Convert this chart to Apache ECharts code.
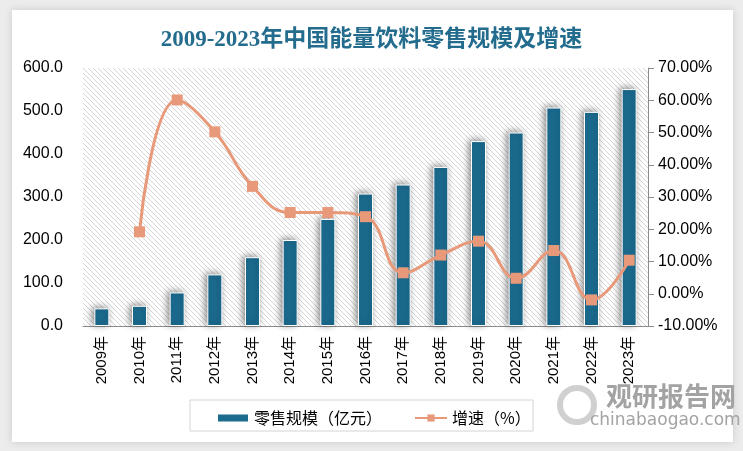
<!DOCTYPE html>
<html><head><meta charset="utf-8">
<script src="https://cdn.jsdelivr.net/npm/echarts@6/dist/echarts.min.js"></script>
<style>html,body{margin:0;padding:0;background:#ececec;}#c{width:743px;height:451px;}</style>
</head><body><div id="c"></div>
<script>
const categories = ['2009年','2010年','2011年','2012年','2013年','2014年','2015年','2016年','2017年','2018年','2019年','2020年','2021年','2022年','2023年'];
const retailScale = [41, 47, 78, 120, 160, 200, 249, 308, 329, 370, 430, 450, 508, 498, 551];
const growthRate = [null, 19.2, 60.1, 50.2, 33.3, 25.2, 25.2, 23.9, 6.5, 12.0, 16.3, 4.8, 13.4, -1.9, 10.4];
const leftTicks = {min: 0, max: 600, interval: 100};
const rightTicks = {min: -10, max: 70, interval: 10};

// hatch pattern
const pc = document.createElement('canvas');
pc.width = 5; pc.height = 5;
const g = pc.getContext('2d');
g.fillStyle = '#ffffff'; g.fillRect(0,0,5,5);
g.strokeStyle = '#d6d6d6'; g.lineWidth = 1;
g.beginPath();
g.moveTo(-1,-1); g.lineTo(6,6);
g.moveTo(-1,4); g.lineTo(1,6);
g.moveTo(4,-1); g.lineTo(6,1);
g.stroke();

const chart = echarts.init(document.getElementById('c'));
chart.setOption({
  backgroundColor: '#ececec',
  animation: false,
  title: {
    text: '2009-2023年中国能量饮料零售规模及增速',
    left: 'center', top: 24,
    textStyle: {color: '#236c8e', fontSize: 23, fontWeight: 'bold', fontFamily: '"Liberation Serif","Noto Sans CJK SC",serif'}
  },
  graphic: [
    {type: 'rect', z: -10, shape: {x: 12, y: 10, width: 721, height: 432},
     style: {fill: '#ffffff', shadowBlur: 8, shadowColor: 'rgba(0,0,0,0.15)'}},
    {type: 'rect', z: 5, shape: {x: 190, y: 400, width: 343, height: 31},
     style: {fill: 'none', stroke: '#d4d4d4', lineWidth: 1}},
    {type: 'circle', z: 1, shape: {cx: 577, cy: 405, r: 17},
     style: {fill: 'none', stroke: '#d0d0d0', lineWidth: 6}},
    {type: 'text', z: 1, left: 606, top: 383,
     style: {text: '观研报告网', fill: '#a3a3a3', font: 'bold 26px "Noto Sans CJK SC"'}},
    {type: 'text', z: 1, left: 590, top: 412,
     style: {text: 'chinabaogao.com', fill: '#a3a3a3', font: '17px "DejaVu Sans"'}}
  ],
  legend: {
    left: 211, top: 405,
    itemGap: 32,
    itemWidth: 32, itemHeight: 9,
    textStyle: {fontSize: 16, color: '#000', fontFamily: '"Noto Sans CJK SC"'},
    data: [
      {name: '零售规模（亿元）', icon: 'rect'},
      {name: '增速（%）'}
    ]
  },
  grid: {left: 83, right: 95, top: 68, bottom: 125, show: true, borderWidth: 0,
         backgroundColor: {image: pc, repeat: 'repeat'}},
  xAxis: {
    type: 'category', data: categories,
    axisLine: {lineStyle: {color: '#8c8c8c', width: 1}},
    axisTick: {show: false},
    axisLabel: {rotate: 90, fontSize: 15, color: '#000', margin: 10, fontFamily: '"Liberation Sans","Noto Sans CJK SC"'}
  },
  yAxis: [
    {type: 'value', min: leftTicks.min, max: leftTicks.max, interval: leftTicks.interval,
     splitLine: {show: false}, axisLine: {show: false}, axisTick: {show: false},
     axisLabel: {fontSize: 16, color: '#000', margin: 20, formatter: v => v.toFixed(1), fontFamily: '"Liberation Sans"'}},
    {type: 'value', min: rightTicks.min, max: rightTicks.max, interval: rightTicks.interval, position: 'right',
     splitLine: {show: false},
     axisLine: {show: true, lineStyle: {color: '#8c8c8c'}},
     axisTick: {show: true, length: 6, lineStyle: {color: '#8c8c8c'}},
     axisLabel: {fontSize: 16, color: '#000', margin: 10, formatter: v => v.toFixed(2) + '%', fontFamily: '"Liberation Sans"'}}
  ],
  series: [
    {name: '零售规模（亿元）', type: 'bar', data: retailScale, barWidth: 15, yAxisIndex: 0,
     itemStyle: {color: '#1b6b8f', borderColor: '#ffffff', borderWidth: 1,
                 shadowBlur: 7, shadowColor: 'rgba(0,0,0,0.45)', shadowOffsetX: -2, shadowOffsetY: -1}},
    {name: '增速（%）', type: 'line', data: growthRate, yAxisIndex: 1, smooth: 0.45,
     symbol: 'rect', symbolSize: 11, showAllSymbol: true, connectNulls: false,
     lineStyle: {color: '#e8997a', width: 3},
     itemStyle: {color: '#e8997a'}, z: 3}
  ]
});
</script></body></html>
